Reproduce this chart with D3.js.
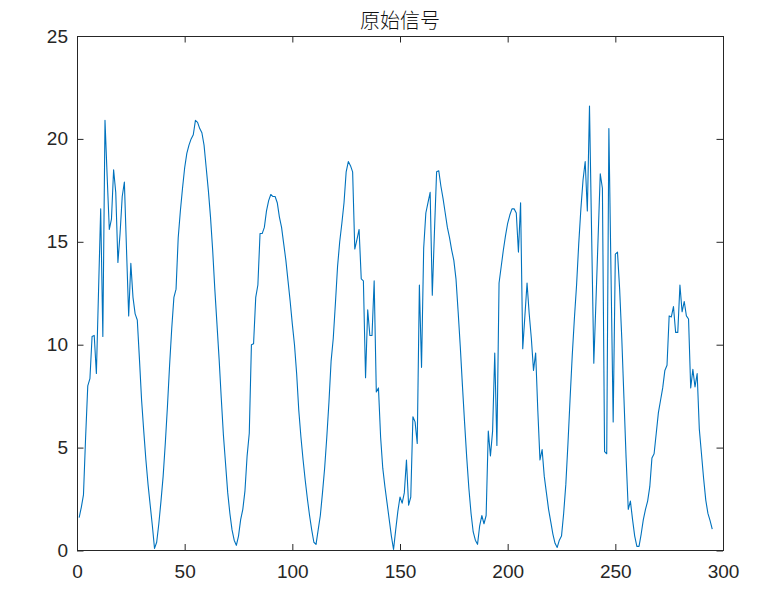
<!DOCTYPE html>
<html><head><meta charset="utf-8">
<script src="https://cdn.jsdelivr.net/npm/d3@7/dist/d3.min.js"></script>
<style>body{margin:0;background:#fff;} svg{display:block;}</style>
</head><body>
<svg id="c" width="778" height="614"></svg>
<script>
const title = "原始信号";
const xTicks = [0, 50, 100, 150, 200, 250, 300];
const yTicks = [0, 5, 10, 15, 20, 25];
// signal values at sample index 1..295
const signal = [
 1.6, 2.1, 2.7, 5.5, 8.0, 8.35, 10.4, 10.45, 8.6, 12.6,
 16.6, 10.4, 20.9, 18.2, 15.6, 16.1, 18.5, 17.4, 14.0, 15.4,
 17.2, 17.9, 14.6, 11.4, 13.95, 12.3, 11.5, 11.2, 9.3, 7.3,
 5.8, 4.4, 3.2, 2.2, 1.2, 0.1, 0.4, 1.3, 2.4, 3.6,
 5.2, 7.0, 9.0, 10.8, 12.3, 12.7, 15.2, 16.5, 17.6, 18.6,
 19.3, 19.7, 20.0, 20.2, 20.9, 20.8, 20.5, 20.3, 19.7, 18.6,
 17.5, 16.2, 14.6, 12.7, 11.0, 9.3, 7.4, 5.6, 4.2, 2.8,
 1.8, 1.0, 0.5, 0.25, 0.7, 1.5, 2.0, 2.9, 4.6, 5.7,
 10.0, 10.05, 12.3, 12.9, 15.4, 15.4, 15.7, 16.5, 17.0, 17.3,
 17.2, 17.2, 16.9, 16.2, 15.7, 14.9, 14.1, 13.1, 12.1, 11.0,
 10.0, 8.6, 6.8, 5.5, 4.4, 3.4, 2.5, 1.7, 1.0, 0.4,
 0.3, 1.0, 1.7, 2.8, 4.0, 5.5, 7.2, 9.2, 10.3, 12.0,
 13.8, 15.0, 15.9, 16.9, 18.4, 18.9, 18.7, 18.4, 14.65, 15.1,
 15.6, 13.2, 13.1, 8.4, 11.7, 10.45, 10.45, 13.1, 7.7, 7.9,
 5.5, 4.0, 3.1, 2.3, 1.5, 0.7, 0.05, 1.0, 1.9, 2.6,
 2.3, 2.8, 4.4, 2.2, 2.6, 6.5, 6.25, 5.2, 12.9, 8.9,
 14.7, 16.4, 16.9, 17.4, 12.4, 15.5, 18.4, 18.45, 17.7, 17.1,
 16.4, 15.7, 15.2, 14.6, 14.1, 13.2, 11.6, 9.9, 8.0, 6.2,
 4.5, 3.0, 1.8, 0.9, 0.5, 0.3, 1.2, 1.7, 1.3, 1.7,
 5.8, 4.6, 5.8, 9.6, 5.1, 13.0, 13.8, 14.6, 15.3, 15.9,
 16.3, 16.6, 16.6, 16.4, 14.5, 16.9, 9.8, 11.4, 13.0, 11.5,
 10.3, 8.75, 9.6, 6.8, 4.4, 4.9, 3.6, 2.8, 2.0, 1.4,
 0.8, 0.35, 0.15, 0.5, 0.7, 1.8, 3.2, 5.2, 7.4, 9.5,
 11.3, 12.9, 14.9, 16.6, 18.0, 18.9, 16.5, 21.6, 15.3, 9.1,
 12.1, 15.2, 18.3, 17.6, 4.8, 4.7, 20.5, 13.4, 6.25, 14.4,
 14.5, 12.7, 10.3, 7.4, 4.5, 2.0, 2.4, 1.5, 0.7, 0.2,
 0.2, 0.8, 1.5, 2.0, 2.4, 3.1, 4.5, 4.7, 5.7, 6.7,
 7.3, 7.9, 8.75, 9.0, 11.4, 11.35, 11.85, 10.6, 10.6, 12.9,
 11.6, 12.1, 11.4, 11.25, 7.9, 8.8, 7.95, 8.6, 5.9, 4.7,
 3.5, 2.45, 1.8, 1.45, 1.04
];

const W = 778, H = 614;
const L = 77, R = 723, T = 36, B = 550.5;
const axisColor = "#262626";
const lineColor = "#0072BD";
const tickLen = 6.5;

const svg = d3.select("#c");
const x = d3.scaleLinear().domain([0, 300]).range([L, R]);
const y = d3.scaleLinear().domain([0, 25]).range([B, T]);

const font = "'Liberation Sans', Arial, Helvetica, sans-serif";

// data line
const pts = signal.map((v, i) => [i + 1, v]);
svg.append("path")
  .datum(pts)
  .attr("fill", "none")
  .attr("stroke", lineColor)
  .attr("stroke-width", 1.1)
  .attr("stroke-linejoin", "round")
  .attr("d", d3.line().x(d => x(d[0])).y(d => y(d[1])));

function styleAxis(g, labels) {
  g.select(".domain").remove();
  g.selectAll(".tick line").attr("stroke", axisColor).attr("stroke-width", 1);
  g.selectAll(".tick text")
    .attr("fill", axisColor)
    .style("font-family", font)
    .style("font-size", "19px");
  if (!labels) g.selectAll(".tick text").remove();
}

svg.append("g").attr("transform", `translate(0,${B})`)
  .call(d3.axisBottom(x).tickValues(xTicks).tickFormat(d3.format("d")).tickSizeInner(-tickLen).tickSizeOuter(0).tickPadding(14))
  .call(g => styleAxis(g, true));
svg.append("g").attr("transform", `translate(0,${T})`)
  .call(d3.axisTop(x).tickValues(xTicks).tickSizeInner(-tickLen).tickSizeOuter(0))
  .call(g => styleAxis(g, false));
svg.append("g").attr("transform", `translate(${L},0)`)
  .call(d3.axisLeft(y).tickValues(yTicks).tickFormat(d3.format("d")).tickSizeInner(-tickLen).tickSizeOuter(0).tickPadding(9))
  .call(g => styleAxis(g, true));
svg.append("g").attr("transform", `translate(${R},0)`)
  .call(d3.axisRight(y).tickValues(yTicks).tickSizeInner(-tickLen).tickSizeOuter(0))
  .call(g => styleAxis(g, false));

// box
svg.append("rect")
  .attr("x", L).attr("y", T).attr("width", R - L).attr("height", B - T)
  .attr("fill", "none").attr("stroke", axisColor).attr("stroke-width", 1)
  .attr("shape-rendering", "crispEdges");

// title
svg.append("text")
  .attr("x", (L + R) / 2).attr("y", 28)
  .attr("text-anchor", "middle")
  .attr("fill", "#111")
  .style("font-family", "'Noto Sans CJK SC', sans-serif")
  .style("font-weight", "300")
  .style("font-size", "20px")
  .text(title);
</script>
</body></html>
